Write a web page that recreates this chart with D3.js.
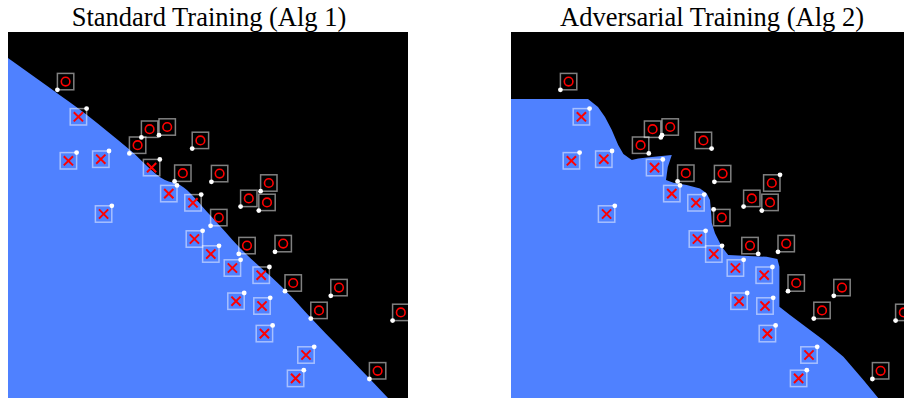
<!DOCTYPE html>
<html>
<head>
<meta charset="utf-8">
<script src="https://cdn.jsdelivr.net/npm/d3@7"></script>
<style>
  html, body { margin: 0; padding: 0; background: #fff; }
  svg { display: block; }
</style>
</head>
<body>
<svg id="chart" width="904" height="398"></svg>
<script>
// ---- data ---------------------------------------------------------------
const panelTitles = ["Standard Training (Alg 1)", "Adversarial Training (Alg 2)"];

// class "x" samples (blue region)
const xPosX = [17.6, 15.1, 23.2, 35.9, 40.2, 46.25, 23.9, 46.6, 50.7, 56.1, 63.3, 57.0, 63.5, 64.1, 74.5, 71.9];
const xPosY = [78.8, 67.8, 68.2, 66.1, 59.6, 57.3, 54.5, 48.25, 44.5, 41.0, 39.2, 32.7, 31.5, 24.6, 19.25, 13.4];

// class "o" samples (black region)
const oPosX = [14.4, 35.4, 39.8, 32.4, 48.1, 43.7, 52.9, 65.2, 60.2, 64.75, 52.7, 59.75, 68.8, 71.3, 82.75, 77.75, 98.2, 92.4];
const oPosY = [87.6, 75.7, 76.25, 71.7, 72.9, 64.7, 64.6, 62.25, 58.4, 57.4, 53.6, 46.6, 47.1, 37.25, 36.1, 30.4, 29.9, 15.3];

// radius of the l-infinity perturbation box
const epsilon = 2.05;

// corner picked by the attack for each sample (sign of dx, sign of dy)
const xAttackStd = xPosX.map(() => [1, 1]);
const oAttackStd = oPosX.map(() => [-1, -1]);
const xAttackAdv = xPosX.map(() => [1, 1]);
const oAttackAdv = [
  [-1, -1], [1, -1], [-1, -1], [1, -1], [1, -1], [-1, -1], [-1, -1], [1, 1], [-1, -1],
  [-1, -1], [-1, 1], [1, -1], [-1, -1], [-1, -1], [-1, -1], [-1, -1], [-1, -1], [-1, -1]
];

// decision boundaries (x-class region lies below / left of them)
const boundStdX = [0, 10.5, 19.75, 30.5, 39.25, 43, 50.5, 58, 69.25, 75.75, 90.25, 95, 100];
const boundStdY = [93.5, 86, 79.25, 70.5, 63, 61.75, 54.25, 46, 35.5, 28.5, 13.5, 8.5, 3.25];

const boundAdvX = [0, 19.25, 21.75, 23.5, 25.2, 26.8, 28.1, 30.2, 31.8, 35.2, 37.7, 40.2, 39.2, 38.75, 40.6, 43.9,
  47.25, 48.9, 49.75, 50.1, 50.2, 51, 52.7, 54.3, 59.3, 63.9, 66.6, 67.1, 67.1, 69.75, 74.75, 78.1, 83.1, 88.1, 91.8, 98.9];
const boundAdvY = [83.25, 83.25, 81.25, 78.75, 75.5, 71.75, 69.5, 68, 68.4, 68.75, 69, 69.25, 66.25, 63, 62.3, 61.75,
  60.9, 59.7, 58, 54, 52.25, 49.7, 46.3, 44.25, 44, 43.8, 43.25, 41.3, 31.3, 29.25, 25.5, 23, 18.8, 13, 8.5, 0];

// ---- drawing ------------------------------------------------------------
const svg = d3.select("#chart");
const size = 400;
const panels = [
  { left: 8,   title: panelTitles[0], bx: boundStdX, by: boundStdY, xa: xAttackStd, oa: oAttackStd, curve: d3.curveMonotoneX },
  { left: 511, title: panelTitles[1], bx: boundAdvX, by: boundAdvY, xa: xAttackAdv, oa: oAttackAdv, curve: d3.curveLinear }
];

const xs = d3.scaleLinear().domain([0, 100]).range([0, size]);
const ys = d3.scaleLinear().domain([0, 100]).range([size, 0]);

const blue = "rgb(79,129,255)";

panels.forEach(p => {
  const g = svg.append("g").attr("transform", `translate(${p.left},32)`);

  svg.append("text")
    .attr("x", p.left + size / 2 + 1)
    .attr("y", 26)
    .attr("text-anchor", "middle")
    .attr("font-family", "'Liberation Serif', 'Times New Roman', serif")
    .attr("font-size", 26.5)
    .attr("fill", "#000")
    .text(p.title);

  g.append("rect").attr("width", size).attr("height", size).attr("fill", "#000");

  // x-class region: boundary, then closed along the bottom-left corner
  const pts = p.bx.map((v, i) => [v, p.by[i]]);
  const last = pts[pts.length - 1];
  const line = d3.line().x(d => xs(d[0])).y(d => ys(d[1])).curve(p.curve);
  const closing = d3.line().x(d => xs(d[0])).y(d => ys(d[1]))([[last[0], last[1]], [100, 0], [0, 0], [pts[0][0], pts[0][1]]]);
  g.append("path")
    .attr("d", line(pts) + closing.replace(/^M/, "L") + "Z")
    .attr("fill", blue);

  const samples = [];
  xPosX.forEach((v, i) => samples.push({ cls: "x", x: v, y: xPosY[i], a: p.xa[i] }));
  oPosX.forEach((v, i) => samples.push({ cls: "o", x: v, y: oPosY[i], a: p.oa[i] }));

  const half = xs(epsilon) - xs(0);

  g.selectAll("rect.ball").data(samples).join("rect")
    .attr("class", "ball")
    .attr("x", d => xs(d.x) - half)
    .attr("y", d => ys(d.y) - half)
    .attr("width", 2 * half)
    .attr("height", 2 * half)
    .attr("fill", "none")
    .attr("stroke", "#fff")
    .attr("stroke-opacity", 0.5)
    .attr("stroke-width", 1.5);

  const r = 4.6;
  g.selectAll("path.xmark").data(samples.filter(d => d.cls === "x")).join("path")
    .attr("class", "xmark")
    .attr("d", d => {
      const cx = xs(d.x), cy = ys(d.y);
      return `M${cx - r},${cy - r}L${cx + r},${cy + r}M${cx - r},${cy + r}L${cx + r},${cy - r}`;
    })
    .attr("stroke", "#ff0000")
    .attr("stroke-width", 2)
    .attr("fill", "none");

  g.selectAll("circle.omark").data(samples.filter(d => d.cls === "o")).join("circle")
    .attr("class", "omark")
    .attr("cx", d => xs(d.x))
    .attr("cy", d => ys(d.y))
    .attr("r", 4.3)
    .attr("stroke", "#ff0000")
    .attr("stroke-width", 1.6)
    .attr("fill", "none");

  // adversarial examples at the chosen corner of each box
  g.selectAll("circle.adv").data(samples).join("circle")
    .attr("class", "adv")
    .attr("cx", d => xs(d.x + d.a[0] * epsilon))
    .attr("cy", d => ys(d.y + d.a[1] * epsilon))
    .attr("r", 2.4)
    .attr("fill", "#fff");
});
</script>
</body>
</html>
